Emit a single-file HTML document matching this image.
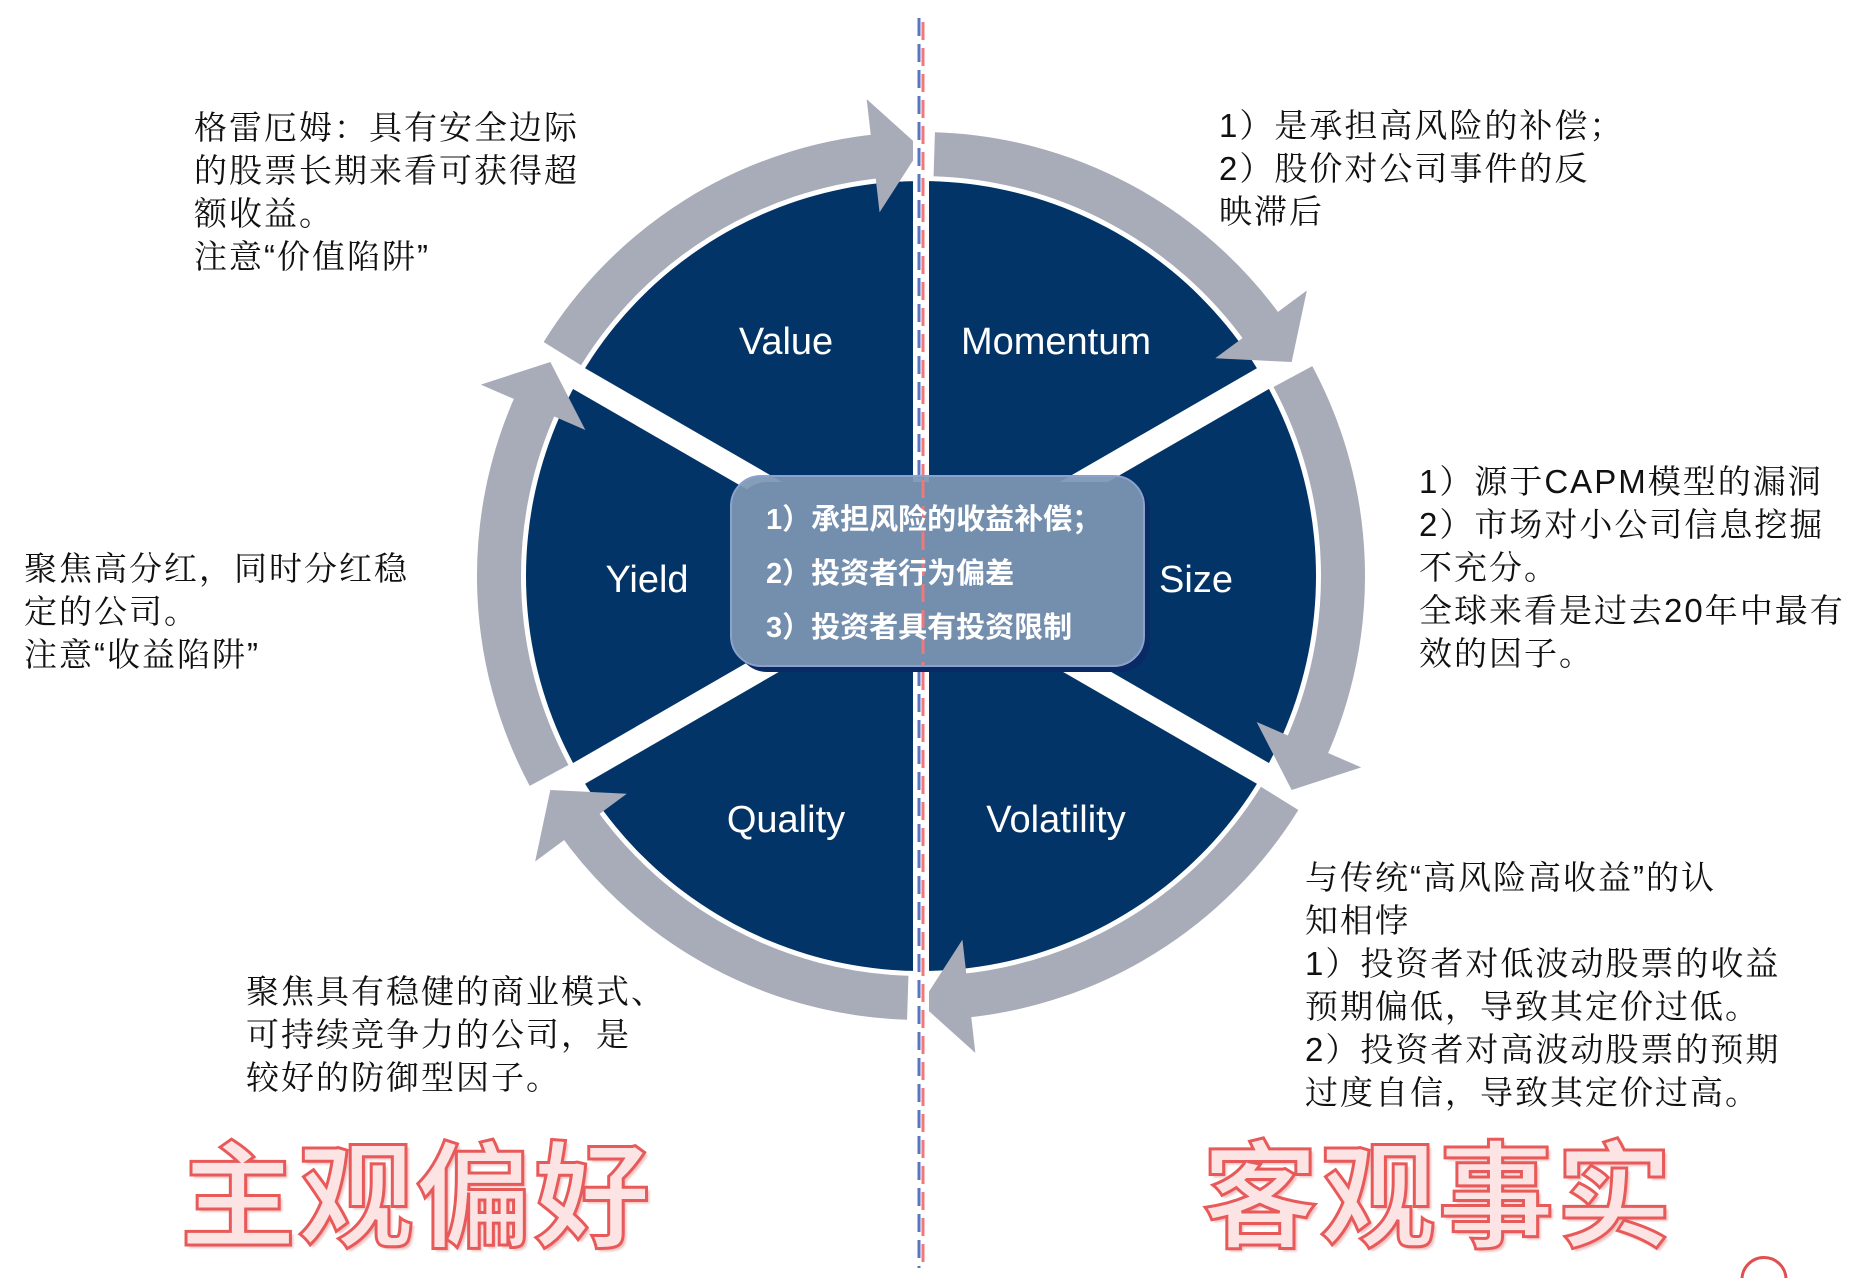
<!DOCTYPE html>
<html><head><meta charset="utf-8">
<style>
html,body{margin:0;padding:0;background:#fff;}
#wrap{position:relative;width:1866px;height:1278px;overflow:hidden;font-family:"Liberation Sans","Noto Sans CJK SC",sans-serif;}
.t{position:absolute;font-size:33px;line-height:43px;color:#111;letter-spacing:2px;white-space:nowrap;font-family:"Liberation Sans","Noto Serif CJK SC","Noto Sans CJK SC",serif;}
.big{position:absolute;font-size:116px;line-height:120px;font-weight:bold;color:#fde4e4;-webkit-text-stroke:3px #e85a5a;letter-spacing:2px;white-space:nowrap;font-family:"Liberation Sans","Noto Sans CJK SC",sans-serif;text-shadow:3px 3px 2px rgba(200,80,80,0.35);}
</style></head><body>
<div id="wrap">
<svg id="s" width="1866" height="1278" style="position:absolute;left:0;top:0">
</svg>
<div class="t" style="left:194px;top:106px">格雷厄姆：具有安全边际<br>的股票长期来看可获得超<br>额收益。<br>注意“价值陷阱”</div>
<div class="t" style="left:1219px;top:104px">1）是承担高风险的补偿；<br>2）股价对公司事件的反<br>映滞后</div>
<div class="t" style="left:1419px;top:460px">1）源于CAPM模型的漏洞<br>2）市场对小公司信息挖掘<br>不充分。<br>全球来看是过去20年中最有<br>效的因子。</div>
<div class="t" style="left:24px;top:547px">聚焦高分红，同时分红稳<br>定的公司。<br>注意“收益陷阱”</div>
<div class="t" style="left:246px;top:970px">聚焦具有稳健的商业模式、<br>可持续竞争力的公司，是<br>较好的防御型因子。</div>
<div class="t" style="left:1305px;top:856px">与传统“高风险高收益”的认<br>知相悖<br>1）投资者对低波动股票的收益<br>预期偏低，导致其定价过低。<br>2）投资者对高波动股票的预期<br>过度自信，导致其定价过高。</div>
<div class="big" style="left:180px;top:1138px">主观偏好</div>
<div class="big" style="left:1202px;top:1138px">客观事实</div>
</div>
<script>
var s=document.getElementById('s'),NS='http://www.w3.org/2000/svg';
var cx=921,cy=576,R=395,rm=422,rw=44;
function el(n,a){var e=document.createElementNS(NS,n);for(var k in a)e.setAttribute(k,a[k]);s.appendChild(e);return e;}
function p(r,a){a=a*Math.PI/180;return [cx+r*Math.cos(a),cy+r*Math.sin(a)];}
el('circle',{cx:cx,cy:cy,r:R,fill:'#033468'});
var ends=[-90,-30,30,90,150,210];
for(var i=0;i<6;i++){
  var e=ends[i],st=e-60+1.8,en=e-5.5;
  var a=p(rm,st),b=p(rm,en);
  el('path',{d:'M'+a[0]+' '+a[1]+' A'+rm+' '+rm+' 0 0 1 '+b[0]+' '+b[1],stroke:'#a8abb8','stroke-width':rw,fill:'none'});
  var t=p(rm+6,e),b1=p(366,e-6.5),b2=p(480,e-6.5);
  el('polygon',{points:t.join(',')+' '+b1.join(',')+' '+b2.join(','),fill:'#a8abb8'});
}
[-30,30,150,210].forEach(function(a){var q=p(R+2,a);el('line',{x1:cx,y1:cy,x2:q[0],y2:q[1],stroke:'#fff','stroke-width':24});});
el('rect',{x:cx-8,y:16,width:16,height:1252,fill:'#fff'});
el('line',{x1:cx-2,y1:18,x2:cx-2,y2:1268,stroke:'#5b74c4','stroke-width':3,'stroke-dasharray':'18 8'});
el('line',{x1:cx+2,y1:22,x2:cx+2,y2:1268,stroke:'#f07878','stroke-width':3,'stroke-dasharray':'18 8'});
el('rect',{x:737,y:482,width:413,height:190,rx:30,fill:'#0a2a66'});
el('rect',{x:731,y:476,width:413,height:190,rx:30,fill:'rgba(125,150,180,0.93)',stroke:'#8aa2cc','stroke-width':2});
el('line',{x1:cx+2,y1:480,x2:cx+2,y2:666,stroke:'#f07878','stroke-width':3,'stroke-dasharray':'18 8'});
var lab=[['Value',786,341],['Momentum',1056,341],['Yield',647,579],['Size',1196,579],['Quality',786,819],['Volatility',1056,819]];
lab.forEach(function(l){var t=el('text',{x:l[1],y:l[2]+13,fill:'#fff','font-size':38,'text-anchor':'middle','font-family':'Liberation Sans, DejaVu Sans, sans-serif'});t.textContent=l[0];});
['1）承担风险的收益补偿；','2）投资者行为偏差','3）投资者具有投资限制'].forEach(function(x,i){var t=el('text',{x:766,y:529+i*54,fill:'#fff','font-size':29,'font-weight':'bold','font-family':'Liberation Sans, Noto Sans CJK SC, sans-serif'});t.textContent=x;});
el('path',{d:'M1742 1280 A22 22 0 0 1 1786 1279',stroke:'#e05050','stroke-width':3,fill:'none'});
</script>
</body></html>
